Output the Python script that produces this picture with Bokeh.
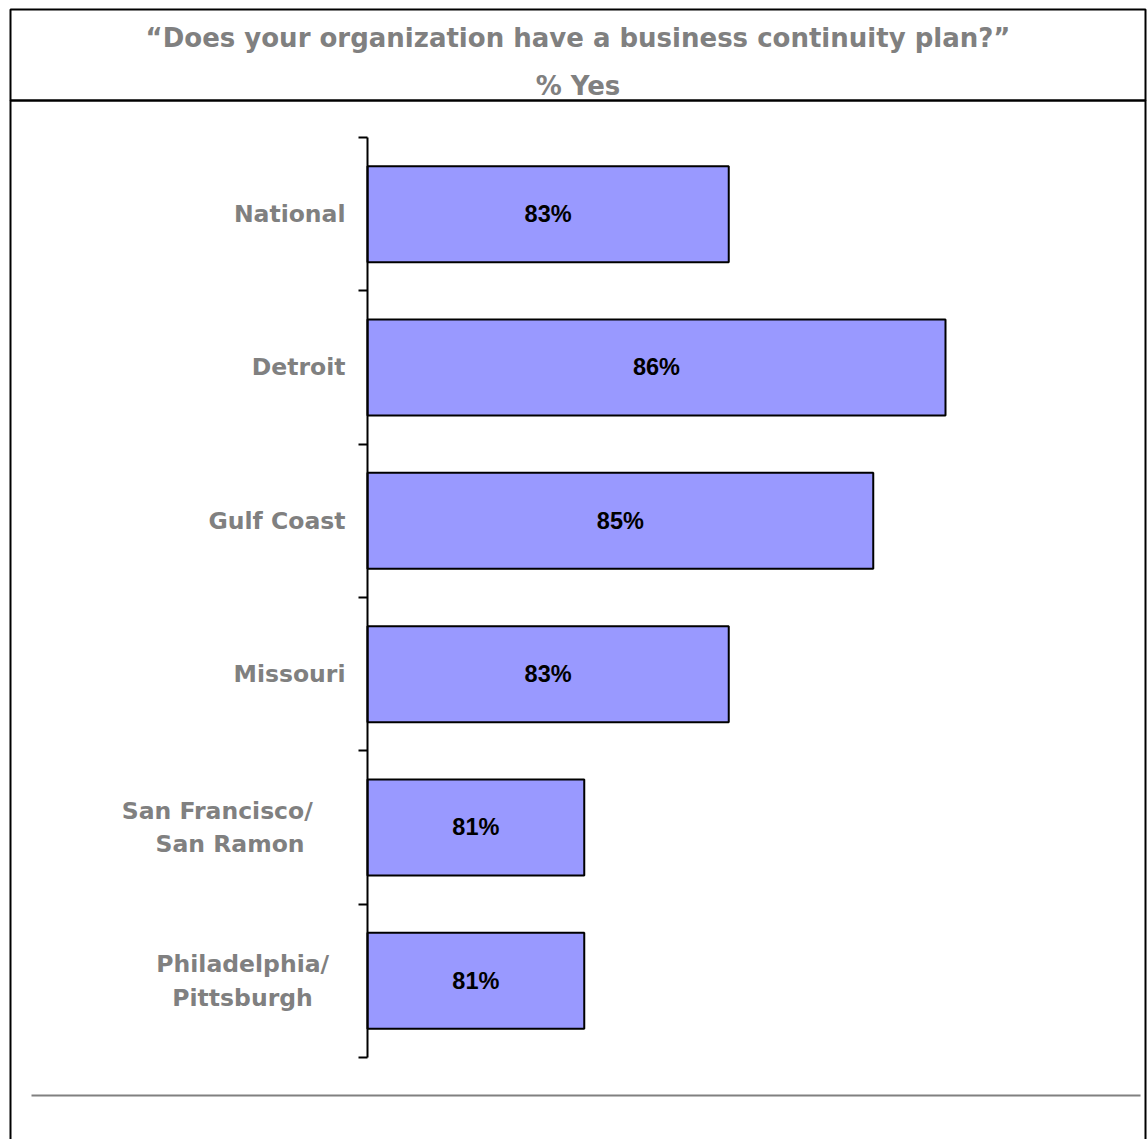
from bokeh.plotting import figure
from bokeh.models import (Range1d, FixedTicker, LinearAxis, BoxAnnotation, Label,
                          LabelSet, ColumnDataSource)
from bokeh.core.properties import value
from bokeh.embed import file_html
from bokeh.resources import INLINE

NB = "\u00a0"

# ---- data ----
categories = ["National", "Detroit", "Gulf Coast", "Missouri",
              "San Francisco/" + NB * 4 + "\nSan Ramon" + NB * 5,
              "Philadelphia/" + NB * 2 + "\nPittsburgh" + NB * 4]
values = [83, 86, 85, 83, 81, 81]
value_labels = ["83%", "86%", "85%", "83%", "81%", "81%"]
title_line1 = "\u201cDoes your organization have a business continuity plan?\u201d"
title_line2 = "% Yes"
x_start = 78

# ---- layout constants (pixels) ----
W, H = 1147, 1139
axis_px = 367          # where the value axis starts
px_per_pt = 72.25      # horizontal scale
band_top_px = 137      # top of first category band
band_px = 153.33       # height of one category band

n = len(categories)
pos = [i + 0.5 for i in range(n)]
mids = [(x_start + v) / 2 for v in values]
src = ColumnDataSource(dict(pos=pos, val=values, mid=mids, txt=value_labels))

x_range = Range1d(x_start - axis_px / px_per_pt, x_start + (W - axis_px) / px_per_pt)
y_range = Range1d((H - band_top_px) / band_px, -band_top_px / band_px)

p = figure(width=W, height=H, output_backend="svg", toolbar_location=None,
           x_range=x_range, y_range=y_range, min_border=0)
p.min_border_left = p.min_border_right = p.min_border_top = p.min_border_bottom = 0
p.outline_line_color = None
p.xgrid.visible = False
p.ygrid.visible = False
p.xaxis.visible = False
p.background_fill_color = "white"
p.border_fill_color = "white"

# ---- frame decorations ----
def cbox(**kw):
    return BoxAnnotation(left_units="canvas", right_units="canvas",
                         top_units="canvas", bottom_units="canvas", **kw)

p.add_layout(cbox(left=10, right=1145, top=9, bottom=100,
                  fill_alpha=0, line_color="black", line_alpha=1, line_width=2))
p.add_layout(cbox(left=10, right=1145, top=100, bottom=1160,
                  fill_alpha=0, line_color="black", line_alpha=1, line_width=2))
p.add_layout(cbox(left=31, right=1140, top=1094, bottom=1096,
                  fill_color="#808080", fill_alpha=1, line_color=None))

# ---- bars ----
p.hbar(y="pos", left=x_start, right="val", height=0.626, source=src,
       fill_color="#9999FF", line_color="black", line_width=2)

p.add_layout(LabelSet(x="mid", y="pos", text="txt", source=src,
                      text_align="center", text_baseline="middle",
                      text_font=value("Liberation Sans"), text_font_style="bold",
                      text_font_size="23.5px", text_color="black"))

# ---- tick axis (category boundaries) ----
ax = p.yaxis[0]
ax.fixed_location = x_start
ax.bounds = (0, n)
ax.ticker = FixedTicker(ticks=list(range(n + 1)))
ax.major_label_overrides = {i: "" for i in range(n + 1)}
ax.axis_line_width = 2
ax.axis_line_color = "black"
ax.major_tick_line_width = 2
ax.major_tick_line_color = "black"
ax.major_tick_out = 9
ax.major_tick_in = 0
ax.minor_tick_line_color = None

# ---- label axis (category names) ----
lab = LinearAxis(ticker=FixedTicker(ticks=pos), fixed_location=x_start,
                 major_label_overrides={p_: c for p_, c in zip(pos, categories)})
lab.axis_line_color = None
lab.major_tick_line_color = None
lab.minor_tick_line_color = None
lab.major_tick_out = 0
lab.major_tick_in = 0
lab.major_label_standoff = 22
lab.major_label_text_font = "DejaVu Sans"
lab.major_label_text_font_style = "bold"
lab.major_label_text_font_size = "23.5px"
lab.major_label_text_color = "#808080"
p.add_layout(lab, "left")

# ---- titles ----
for txt, yy in [(title_line1, 37), (title_line2, 85)]:
    p.add_layout(Label(x=577.5, y=yy, x_units="canvas", y_units="canvas", text=txt,
                       text_align="center", text_baseline="middle",
                       text_font="DejaVu Sans", text_font_style="bold",
                       text_font_size="26px", text_color="#808080"))

open("out.html", "w").write(file_html(p, INLINE))
